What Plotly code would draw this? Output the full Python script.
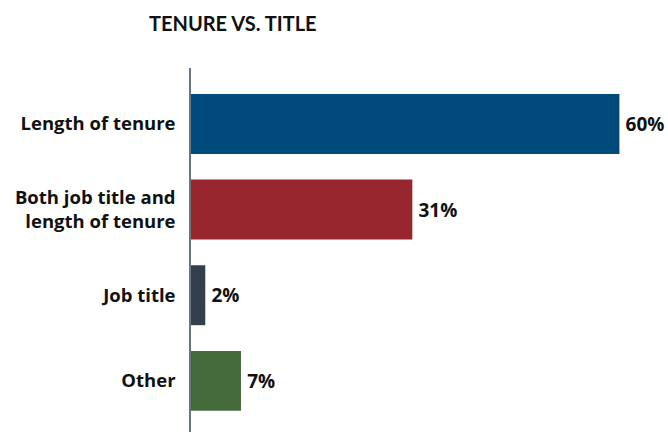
import plotly.graph_objects as go

categories = ["Length of tenure", "Both job title and<br>length of tenure", "Job title", "Other"]
values = [60, 31, 2, 7]
labels = ["60%", "31%", "2%", "7%"]
colors = ["#004a7c", "#98262f", "#333f4c", "#456b3d"]

W, H = 668, 432

fig = go.Figure(go.Bar(
    y=categories, x=values, orientation="h",
    marker=dict(color=colors, line=dict(width=0)),
    text=["\u2009" + t for t in labels], textposition="outside", cliponaxis=False,
    textfont=dict(family="Open Sans", size=19, color="#111111", weight=700),
    width=0.7, hoverinfo="skip",
))

fig.update_layout(
    width=W, height=H,
    margin=dict(l=191, r=0, t=68, b=0),
    paper_bgcolor="white", plot_bgcolor="white",
    showlegend=False,
    title=dict(text="<b>TENURE VS. TITLE</b>", x=149 / W, xanchor="left",
               y=1 - 24 / H, yanchor="middle",
               font=dict(family="Lato", size=20, color="#111111")),
    font=dict(family="Open Sans", color="#111111"),
)
fig.update_xaxes(range=[0, (W - 191) / 7.14], visible=False)
fig.update_yaxes(type="category", range=[3.597, -0.653], showline=True, linecolor="#6b7580",
                 linewidth=1.5, showgrid=False, ticks="", ticklabelstandoff=10,
                 tickfont=dict(family="Open Sans", size=18.5, color="#111111", weight=700))
fig.write_html("out.html", config={"displayModeBar": False},
               post_script="document.body.style.margin='0';document.body.style.overflow='hidden';")
